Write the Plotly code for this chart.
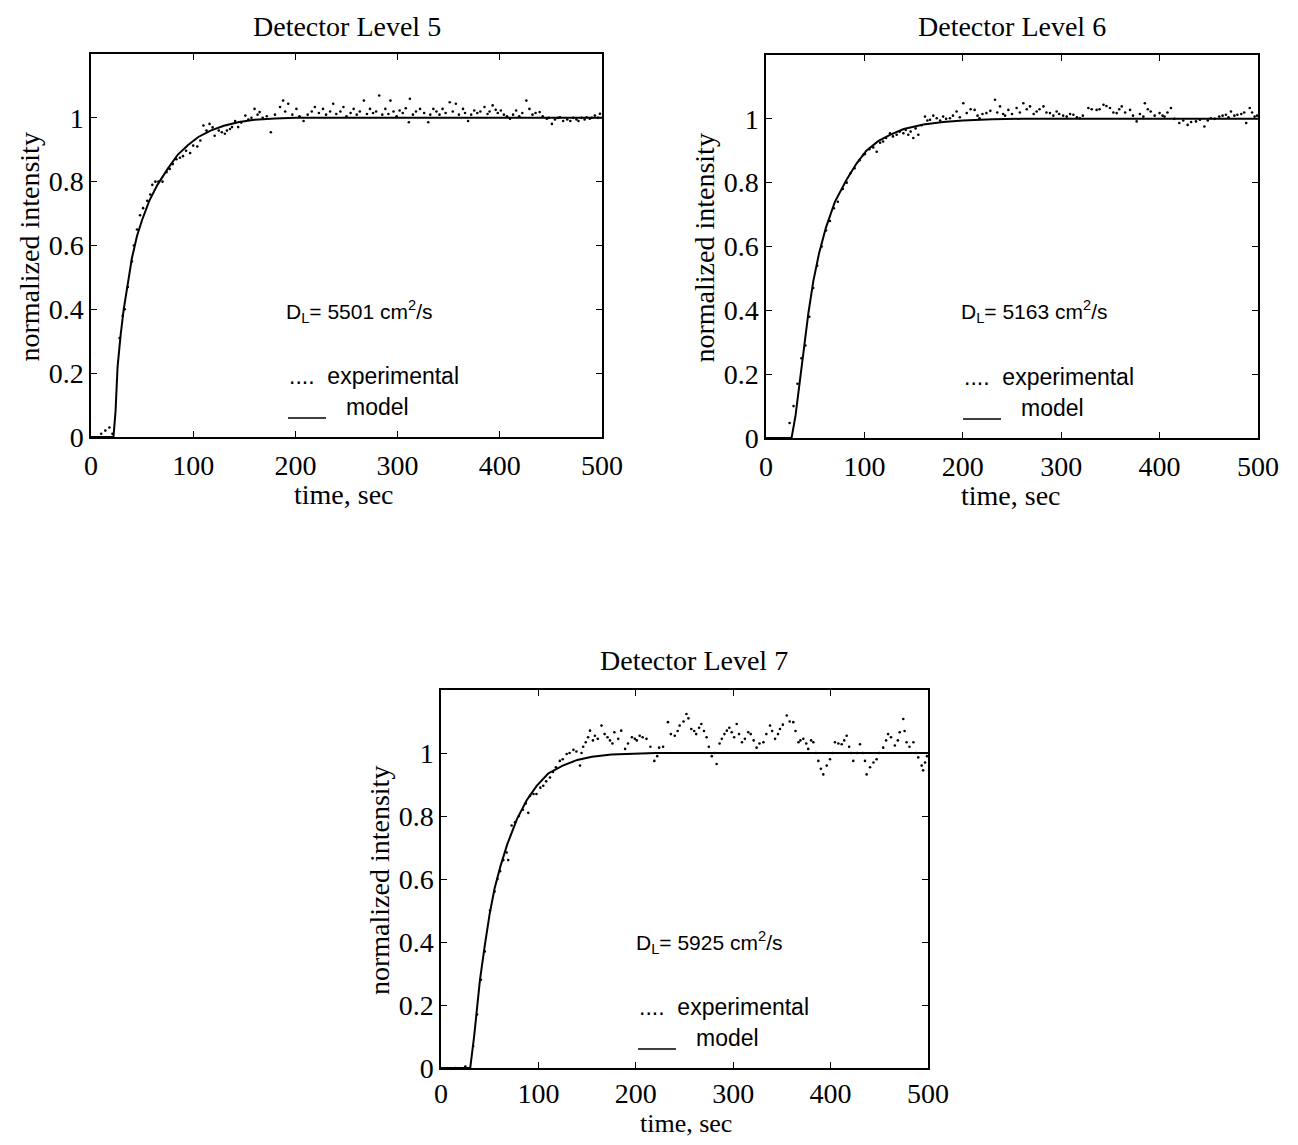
import plotly.graph_objects as go

# ---------------- data ----------------
# Detector Level 5
model5_t = [0, 22, 24, 26, 29, 32, 36, 40, 45, 50, 57, 65, 75, 85, 95, 105, 117, 130, 145, 160, 180, 200, 300, 400, 500]
model5_y = [0, 0, 0.08, 0.22, 0.32, 0.40, 0.48, 0.56, 0.63, 0.68, 0.74, 0.79, 0.84, 0.885, 0.915, 0.94, 0.96, 0.975, 0.987, 0.994, 0.998, 1.0, 1.0, 1.0, 1.0]
exp5_t = [10, 14, 18, 21, 28, 31, 33, 36, 40, 42, 45, 48, 51, 55, 58, 60, 63, 66, 70, 74, 77, 80, 83.5, 87, 90, 93, 97, 100,
          104, 107, 110, 113, 116, 119, 121, 125, 128, 131, 133, 136, 138, 141, 144, 147, 151, 154, 157, 160, 163, 165, 168,
          172, 176, 180, 185, 188, 190, 193, 197, 201, 204, 208, 212, 216, 219, 223, 227, 230, 234, 237, 240, 244, 247, 250,
          254, 257, 260, 263, 267, 270, 273, 276, 279, 282, 285, 288, 291, 293, 296, 299, 302, 305, 308, 311, 312, 315, 318,
          322, 326, 330, 332, 335, 338, 341, 344, 347, 351, 354, 357, 360, 364, 366, 369, 372, 375, 378, 381, 385, 388, 390,
          393, 396, 398, 401, 404, 407, 410, 413, 416, 419, 422, 426, 429, 432, 435, 439, 442, 446, 448, 451, 454, 457, 459,
          462, 466, 469, 472, 475, 477, 480, 483, 485, 488, 490, 493, 496, 498]
exp5_y = [0.01, 0.02, 0.03, 0.01, 0.31, 0.38, 0.40, 0.47, 0.55, 0.60, 0.65, 0.695, 0.717, 0.74, 0.76, 0.79, 0.80, 0.80, 0.80,
          0.83, 0.84, 0.855, 0.87, 0.875, 0.88, 0.897, 0.89, 0.913, 0.91, 0.929, 0.976, 0.96, 0.981, 0.97, 0.944, 0.96, 0.955,
          0.95, 0.96, 0.965, 0.971, 0.99, 0.971, 0.985, 1.007, 0.995, 1.0, 1.028, 1.01, 1.018, 1.0, 1.005, 0.955, 1.01, 1.034,
          1.054, 1.02, 1.044, 1.01, 1.028, 1.005, 0.99, 1.01, 1.02, 1.034, 1.015, 1.028, 1.01, 1.02, 1.044, 1.012, 1.02, 1.034,
          1.005, 1.015, 1.028, 1.01, 1.02, 1.054, 1.012, 1.028, 1.015, 1.02, 1.07, 1.01, 1.028, 1.012, 1.054, 1.02, 1.005,
          1.023, 1.015, 1.03, 0.986, 1.06, 1.01, 1.02, 1.028, 1.015, 0.986, 1.01, 1.028, 1.02, 1.01, 1.028, 1.015, 1.049,
          1.02, 1.044, 1.01, 1.028, 1.015, 0.99, 1.01, 1.023, 1.015, 1.02, 1.034, 1.012, 1.02, 1.039, 1.025, 1.015, 1.023,
          1.01, 1.005, 0.997, 1.01, 1.023, 1.005, 1.015, 1.054, 1.028, 1.01, 1.015, 1.018, 1.005, 0.997, 1.0, 0.981, 0.995,
          1.0, 1.002, 0.99, 0.995, 0.99, 1.0, 0.995, 0.99, 1.0, 0.995, 1.002, 0.997, 1.0, 1.007, 1.0, 1.013]

# Detector Level 6
model6_t = [0, 26, 30, 34, 38, 43, 48, 54, 61, 70, 82, 92, 102, 114, 126, 140, 160, 180, 200, 230, 260, 500]
model6_y = [0, 0, 0.07, 0.17, 0.28, 0.39, 0.49, 0.58, 0.66, 0.74, 0.81, 0.86, 0.90, 0.93, 0.95, 0.968, 0.982, 0.99, 0.995, 0.999, 1.0, 1.0]
exp6_t = [24, 28, 32, 36, 40, 44, 48, 52, 56.6, 61, 65, 69, 73, 78, 82, 86, 90, 95, 98.9, 100.6, 105, 109, 112.5, 116, 119,
          122, 126, 129, 132.8, 136, 139.6, 142, 144.6, 147, 149.7, 152, 154.8, 158, 161.6, 164, 166.7, 170, 173.5, 177, 180,
          183, 186.9, 190, 193.7, 197, 200.5, 204, 208, 212, 215, 217, 220, 224, 228, 232.7, 235, 237.8, 241, 243, 246.3, 250,
          254.7, 258, 261.5, 265, 268.3, 272, 275, 278, 282, 285, 288.6, 292, 295.4, 298, 302, 305.6, 309, 312.4, 316, 319, 322,
          327.6, 331, 336, 339, 343, 346, 349.6, 353, 356.4, 359, 361.5, 365, 370, 373, 376.7, 380, 383.5, 385, 388, 391, 395,
          400, 403, 405, 408, 411.5, 415, 420, 424, 428.5, 432, 437, 441, 445.5, 449, 452, 456, 460.6, 464, 467.4, 470, 472.5,
          476, 479, 483, 486, 488, 491.6, 494, 496.6, 499]
exp6_y = [0.047, 0.10, 0.17, 0.25, 0.29, 0.38, 0.47, 0.54, 0.60, 0.65, 0.68, 0.72, 0.74, 0.78, 0.80, 0.83, 0.845, 0.87, 0.887,
          0.89, 0.905, 0.91, 0.897, 0.925, 0.929, 0.94, 0.955, 0.945, 0.95, 0.96, 0.955, 0.965, 0.95, 0.96, 0.94, 0.97, 0.95,
          0.98, 1.007, 0.995, 0.997, 1.01, 1.002, 0.995, 1.007, 1.0, 1.002, 1.01, 1.023, 1.005, 1.049, 1.018, 1.03, 1.028, 1.01,
          1.002, 1.015, 1.018, 1.025, 1.06, 1.02, 1.039, 1.015, 1.01, 1.028, 1.015, 1.034, 1.02, 1.049, 1.03, 1.039, 1.015,
          1.023, 1.03, 1.039, 1.02, 1.018, 1.01, 1.023, 1.015, 1.01, 1.007, 1.015, 1.013, 1.005, 1.002, 1.01, 1.034, 1.03,
          1.028, 1.03, 1.044, 1.04, 1.034, 1.02, 1.018, 1.03, 1.039, 1.02, 1.028, 1.01, 0.992, 1.015, 1.007, 1.049, 1.03,
          1.023, 1.01, 1.018, 1.01, 1.007, 1.02, 1.034, 1.0, 0.987, 0.995, 0.981, 0.99, 0.992, 0.997, 0.976, 0.995, 1.002,
          1.0, 1.007, 1.01, 1.013, 1.005, 1.023, 1.01, 1.013, 1.015, 1.02, 0.987, 1.034, 1.02, 1.007, 1.01]

# Detector Level 7
model7_t = [0, 30, 34, 37, 40, 45, 50, 55, 61, 68, 78, 88, 98, 110, 125, 140, 155, 175, 195, 220, 500]
model7_y = [0, 0, 0.10, 0.19, 0.28, 0.39, 0.49, 0.57, 0.64, 0.71, 0.79, 0.85, 0.895, 0.935, 0.96, 0.978, 0.988, 0.995, 0.998, 1.0, 1.0]
exp7_t = [15, 25, 33, 37, 41, 45, 50.3, 55, 58, 60.6, 64, 67.4, 69, 72.5, 76, 80, 84, 87, 89.6, 91.4, 95, 98, 102, 105, 108,
          111.9, 115, 118, 122, 125, 129, 132, 136, 139, 142.7, 144.3, 146, 148.6, 151, 153, 156, 158, 161, 164.8, 168, 171,
          173.5, 176, 178, 182, 185, 189, 192, 196, 199, 201, 204, 207, 211, 215, 219, 222, 224, 228, 233, 236, 240, 243, 245,
          249, 252, 254, 257, 260, 262, 265, 267.3, 270, 272.7, 275, 278, 281, 283, 286, 288.3, 291, 293.5, 296, 298.5, 301,
          303.6, 306, 309, 312, 315.5, 318, 321, 324, 327, 331, 334, 337.8, 340, 343, 346, 348, 351, 355, 358, 361.7, 364, 367,
          369, 372, 375, 377, 380, 382.3, 385, 387.4, 390, 392.5, 396, 399.4, 402, 404.5, 408, 411.4, 414, 416.5, 419, 421,
          423.3, 427, 430.2, 433, 435.3, 437, 440.5, 444, 447.3, 450, 454, 457, 459, 462, 466, 469, 471, 474.6, 476, 478, 481,
          485, 488, 490, 493.5, 495, 497, 499]
exp7_y = [0.0, 0.005, 0.07, 0.17, 0.28, 0.37, 0.50, 0.56, 0.60, 0.625, 0.66, 0.684, 0.66, 0.77, 0.78, 0.80, 0.82, 0.84, 0.81,
          0.864, 0.87, 0.87, 0.89, 0.896, 0.91, 0.922, 0.94, 0.955, 0.975, 0.98, 0.997, 1.0, 1.01, 1.005, 0.96, 1.0, 1.02,
          1.034, 1.05, 1.071, 1.04, 1.055, 1.045, 1.087, 1.06, 1.05, 1.04, 1.03, 1.066, 1.045, 1.071, 1.013, 1.03, 1.05, 1.045,
          1.04, 1.055, 1.05, 1.045, 1.02, 0.975, 0.99, 1.017, 1.02, 1.098, 1.06, 1.055, 1.07, 1.087, 1.1, 1.124, 1.11, 1.076,
          1.07, 1.06, 1.08, 1.092, 1.07, 1.05, 1.02, 0.99, 1.0, 0.965, 1.03, 1.045, 1.06, 1.071, 1.08, 1.066, 1.05, 1.092,
          1.06, 1.034, 1.045, 1.066, 1.06, 1.04, 1.017, 1.03, 1.034, 1.06, 1.087, 1.07, 1.045, 1.06, 1.076, 1.09, 1.119, 1.1,
          1.098, 1.07, 1.034, 1.04, 1.045, 1.03, 1.013, 1.04, 1.034, 1.0, 0.975, 0.95, 0.932, 0.96, 0.98, 1.0, 1.034, 1.03,
          1.028, 1.04, 1.055, 1.02, 1.0, 0.975, 1.0, 1.028, 1.0, 0.975, 0.932, 0.955, 0.97, 0.98, 1.0, 1.017, 1.04, 1.06, 1.05,
          1.024, 1.04, 1.066, 1.108, 1.07, 1.034, 1.02, 1.034, 1.0, 0.986, 0.96, 0.945, 0.97, 0.99]

x_ticks = [0, 100, 200, 300, 400, 500]
y_ticks = [0, 0.2, 0.4, 0.6, 0.8, 1]
titles = ["Detector Level 5", "Detector Level 6", "Detector Level 7"]
dl_values = ["5501", "5163", "5925"]

# ---------------- layout helpers ----------------
OFF = 8                      # page body margin
W, H = 1298 - 2 * OFF, 1145 - 2 * OFF

def px(x):
    return (x - OFF) / W

def py(y):
    return 1 - (y - OFF) / H

SERIF = "Liberation Serif, Times New Roman, serif"
SANS = "Liberation Sans, Arial, Helvetica, sans-serif"
SERIF_SIZE = 28
SANS_SIZE = 23
DL_SIZE = 21

# panel boxes in page pixels: (left, right, top, bottom)
boxes = [(91, 602, 54, 437), (766, 1258, 55, 438), (441, 928, 690, 1068)]
title_y = [26, 27, 660]
title_x = [347, 1012, 694]
xlabel_x = [344, 1011, 686]
xlabel_y = [494, 495, 1123]
xlabel_size = [28, 28, 26]
xtick_standoff = [3, 3, 0]

fig = go.Figure()
panels = [(model5_t, model5_y, exp5_t, exp5_y),
          (model6_t, model6_y, exp6_t, exp6_y),
          (model7_t, model7_y, exp7_t, exp7_y)]

for i, (mt, my, et, ey) in enumerate(panels):
    sfx = "" if i == 0 else str(i + 1)
    fig.add_trace(go.Scatter(x=et, y=ey, mode="markers",
                             marker=dict(color="black", size=2.6),
                             xaxis="x" + sfx, yaxis="y" + sfx, showlegend=False))
    fig.add_trace(go.Scatter(x=mt, y=my, mode="lines",
                             line=dict(color="black", width=2),
                             xaxis="x" + sfx, yaxis="y" + sfx, showlegend=False))

axis_common = dict(showline=True, linecolor="black", linewidth=1.5, mirror="ticks",
                   ticks="inside", ticklen=6, tickwidth=1.2, tickcolor="black",
                   showgrid=False, zeroline=False, automargin=False,
                   tickfont=dict(family=SERIF, size=SERIF_SIZE, color="black"))

layout = dict(width=W, height=H, margin=dict(l=0, r=0, t=0, b=0),
              plot_bgcolor="white", paper_bgcolor="white", showlegend=False)

annotations = []
shapes = []
for i, (l, r, t, b) in enumerate(boxes):
    sfx = "" if i == 0 else str(i + 1)
    layout["xaxis" + sfx] = dict(axis_common, domain=[px(l), px(r)], range=[0, 500],
                                  tickvals=x_ticks, anchor="y" + sfx, ticklabelstandoff=xtick_standoff[i])
    layout["yaxis" + sfx] = dict(axis_common, domain=[py(b), py(t)], range=[0, 1.2],
                                  tickvals=y_ticks, anchor="x" + sfx, ticklabelstandoff=0)
    # title
    annotations.append(dict(text=titles[i], x=px(title_x[i]), y=py(title_y[i]), xref="paper", yref="paper",
                            showarrow=False, font=dict(family=SERIF, size=SERIF_SIZE, color="black"),
                            xanchor="center", yanchor="middle"))
    # x axis title
    annotations.append(dict(text="time, sec", x=px(xlabel_x[i]), y=py(xlabel_y[i]), xref="paper", yref="paper",
                            showarrow=False, font=dict(family=SERIF, size=xlabel_size[i], color="black"),
                            xanchor="center", yanchor="middle"))
    # y axis title
    annotations.append(dict(text="normalized intensity", x=px(l - 62), y=py((t + b) / 2 + 2),
                            xref="paper", yref="paper", textangle=-90,
                            showarrow=False, font=dict(family=SERIF, size=SERIF_SIZE, color="black"),
                            xanchor="center", yanchor="middle"))
    # D_L text and legend keys
    annotations.append(dict(text="D<sub>L</sub>= " + dl_values[i] + " cm<sup>2</sup>/s",
                            x=px(l + 193), y=py(b - 126), xref="paper", yref="paper",
                            showarrow=False, font=dict(family=SANS, size=DL_SIZE, color="black"),
                            xanchor="left", yanchor="middle"))
    annotations.append(dict(text="....  experimental", x=px(l + 196), y=py(b - 61), xref="paper", yref="paper",
                            showarrow=False, font=dict(family=SANS, size=SANS_SIZE, color="black"),
                            xanchor="left", yanchor="middle"))
    annotations.append(dict(text="model", x=px(l + 253), y=py(b - 30), xref="paper", yref="paper",
                            showarrow=False, font=dict(family=SANS, size=SANS_SIZE, color="black"),
                            xanchor="left", yanchor="middle"))
    shapes.append(dict(type="line", xref="paper", yref="paper",
                       x0=px(l + 197), x1=px(l + 235), y0=py(b - 19), y1=py(b - 19),
                       line=dict(color="black", width=1.5)))

layout["annotations"] = annotations
layout["shapes"] = shapes
fig.update_layout(**layout)
fig.write_html("out.html")
